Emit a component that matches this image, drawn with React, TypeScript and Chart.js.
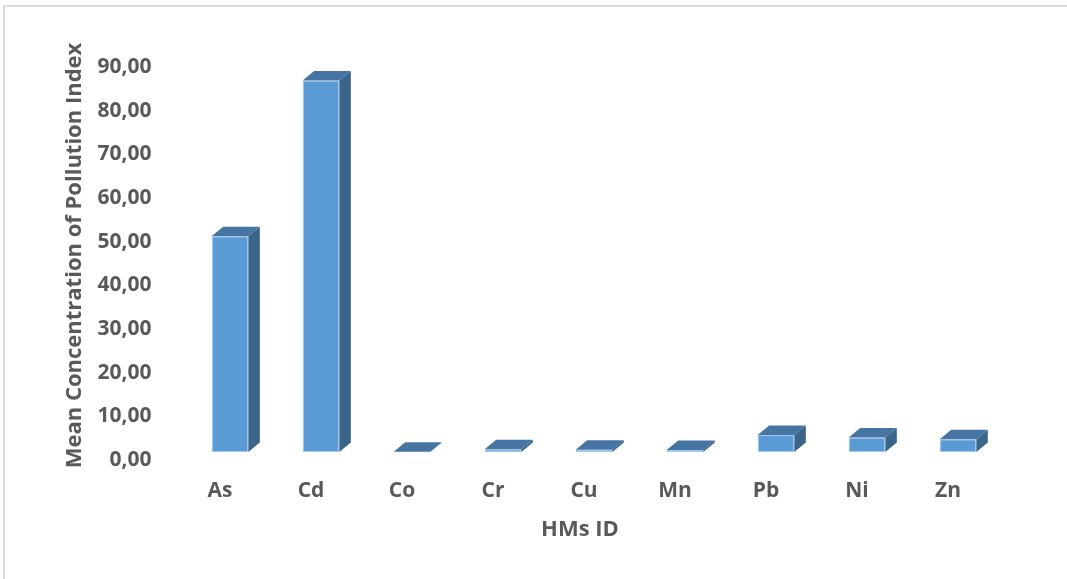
import React, { useEffect, useRef } from "react";
import { Chart, registerables } from "chart.js";

Chart.register(...registerables);

const categories = ["As", "Cd", "Co", "Cr", "Cu", "Mn", "Pb", "Ni", "Zn"];
const meanValues = [49.4, 85.1, 0.05, 0.65, 0.5, 0.45, 3.9, 3.3, 2.9];
const yTickMin = 0;
const yTickMax = 90;
const yTickStep = 10;
const yTitle = "Mean Concentration of Pollution Index";
const xTitle = "HMs ID";

const FONT = '"Open Sans", Lato, sans-serif';
const FSIZE = 21;
const TSIZE = 22;
const TEXT = "#595959";
const FRONT = "#5B9BD5";
const TOP = "#4775a3";
const SIDE = "#3b6489";
const DX = 11.5;
const DY = 9.5;

const threeD = {
  id: "threeD",
  afterDatasetsDraw(chart: any) {
    const ctx = chart.ctx;
    const meta = chart.getDatasetMeta(0);
    ctx.save();
    meta.data.forEach((bar: any) => {
      const { x, y, base, width } = bar.getProps(["x", "y", "base", "width"], true);
      const l = x - width / 2;
      const r = x + width / 2;
      ctx.fillStyle = SIDE;
      ctx.beginPath();
      ctx.moveTo(r, y);
      ctx.lineTo(r + DX, y - DY);
      ctx.lineTo(r + DX, base - DY);
      ctx.lineTo(r, base);
      ctx.closePath();
      ctx.fill();
      ctx.fillStyle = TOP;
      ctx.beginPath();
      ctx.moveTo(l, y);
      ctx.lineTo(l + DX, y - DY);
      ctx.lineTo(r + DX, y - DY);
      ctx.lineTo(r, y);
      ctx.closePath();
      ctx.fill();
    });
    ctx.restore();
  },
  afterDraw(chart: any) {
    const ctx = chart.ctx;
    const xs = chart.scales.x;
    ctx.save();
    ctx.font = `bold ${TSIZE}px ${FONT}`;
    ctx.fillStyle = TEXT;
    ctx.textAlign = "center";
    ctx.textBaseline = "middle";
    ctx.fillText(xTitle, (xs.left + xs.right) / 2 - 14, 530);
    ctx.restore();
  },
};

export default function App() {
  const ref = useRef<HTMLCanvasElement>(null);
  useEffect(() => {
    if (!ref.current) return;
    const chart = new Chart(ref.current, {
      type: "bar",
      data: {
        labels: categories,
        datasets: [
          {
            data: meanValues,
            backgroundColor: FRONT,
            borderColor: "rgba(150,195,238,0.9)",
            borderWidth: 1,
            borderSkipped: false,
            barPercentage: 0.403,
            categoryPercentage: 1,
          },
        ],
      },
      options: {
        responsive: false,
        animation: false,
        devicePixelRatio: 1,
        layout: { padding: { top: 59, right: 63.5, left: 0, bottom: 0 } },
        plugins: { legend: { display: false }, tooltip: { enabled: false } },
        scales: {
          x: {
            grid: { display: false, drawTicks: false },
            border: { display: false },
            ticks: {
              color: TEXT,
              font: { family: FONT, size: FSIZE, weight: "bold" },
              labelOffset: -10,
              padding: 26,
              maxRotation: 0,
            },
            afterFit: (s: any) => {
              s.height = 127;
            },
          },
          y: {
            min: yTickMin,
            max: yTickMax,
            grid: { display: false, drawTicks: false },
            border: { display: false },
            ticks: {
              stepSize: yTickStep,
              color: TEXT,
              font: { family: FONT, size: FSIZE, weight: "bold" },
              padding: 33,
              labelOffset: 8,
              callback: (v: any) => Number(v).toFixed(2).replace(".", ","),
            },
            title: {
              display: true,
              text: yTitle,
              color: TEXT,
              font: { family: FONT, size: TSIZE, weight: "bold" },
              padding: { top: 62, bottom: 0 },
            },
            afterFit: (s: any) => {
              s.width = 184.5;
            },
          },
        },
      },
      plugins: [threeD],
    });
    return () => chart.destroy();
  }, []);
  return (
    <div style={{ position: "absolute", left: 0, top: 0, width: 1067, height: 579, background: "#fff" }}>
      <div
        style={{
          position: "absolute",
          left: 3,
          top: 5,
          right: 0,
          bottom: 0,
          borderTop: "2px solid #dcdcdc",
          borderLeft: "2px solid #dcdcdc",
        }}
      />
      <canvas ref={ref} width={1067} height={579} style={{ position: "absolute", left: 0, top: 0 }} />
    </div>
  );
}
